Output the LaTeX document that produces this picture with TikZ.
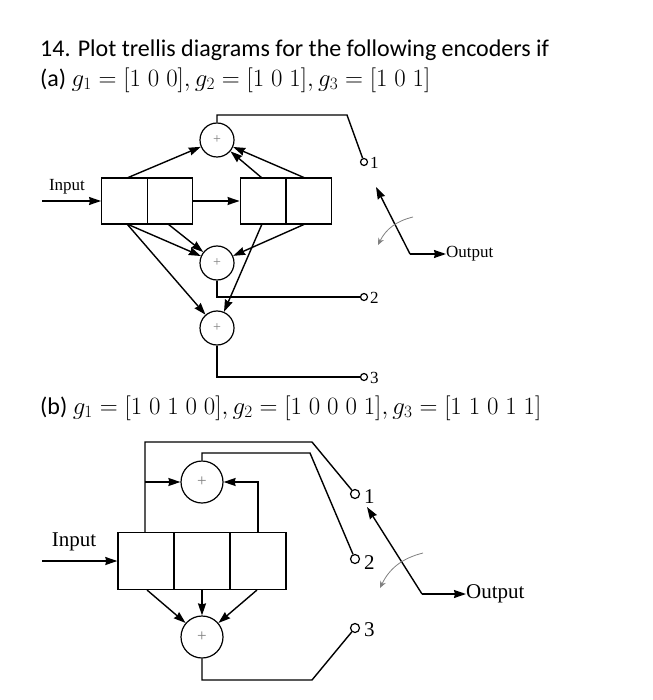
\documentclass[tikz,border=0pt]{standalone}
\usepackage{fontspec}
\setmainfont{Carlito}
\newfontfamily\tms{Liberation Serif}
\usetikzlibrary{arrows.meta}
\begin{document}
\begin{tikzpicture}[x=1pt,y=-1pt,
  ln/.style={line width=1.4pt},
  ar/.style={ln,-{Stealth[length=12pt,width=8pt,inset=1pt]}},
  adda/.style={circle,draw,line width=1.2pt,minimum size=34pt,inner sep=0pt,font=\tms\fontsize{14}{14}\selectfont,text=gray},
  addb/.style={circle,draw,line width=1.2pt,minimum size=42pt,inner sep=0pt,font=\tms\fontsize{17}{17}\selectfont,text=gray},
  cella/.style={draw,line width=1.4pt,minimum width=45.5pt,minimum height=46pt,inner sep=0pt},
  cellb/.style={draw,line width=1.4pt,minimum width=56pt,minimum height=57pt,inner sep=0pt},
  cont/.style={circle,draw,line width=1.2pt,minimum size=7pt,inner sep=0pt},
  laba/.style={font=\tms\fontsize{17}{17}\selectfont,inner sep=0pt},
  labb/.style={font=\tms\fontsize{21}{21}\selectfont,inner sep=0pt},
  ttl/.style={font=\fontsize{24}{24}\selectfont,anchor=west,inner sep=0pt},
  curv/.style={gray,line width=0.8pt,-{Stealth[length=7pt,width=6pt]}}]
\useasboundingbox (0,0) rectangle (652,700);
% titles
\node[ttl] (t1) at (40,50) {14. Plot trellis diagrams for the following encoders if};
\node[ttl] (t2) at (40,80) {(a) $g_1=[1\;0\;0], g_2=[1\;0\;1], g_3=[1\;0\;1]$};
\node[ttl] (t3) at (40,408) {(b) $g_1=[1\;0\;1\;0\;0], g_2=[1\;0\;0\;0\;1], g_3=[1\;1\;0\;1\;1]$};
% ---------- part (a)
\node[cella] (r1) at (124.5,201) {};
\node[cella] (r2) at (170,201) {};
\node[cella] (r3) at (263,201) {};
\node[cella] (r4) at (309,201) {};
\node[adda] (A1) at (217,140) {+};
\node[adda] (A2) at (217,263) {+};
\node[adda] (A3) at (217,328) {+};
\node[laba] (inA) at (67,187) {Input};
\coordinate (inAs) at (42,201);
\draw[ar] (inAs) -- (r1.west);
\draw[ar] (r2.east) -- (r3.west);
\coordinate (p1) at (127,178); \coordinate (p2) at (168,224);
\coordinate (p3) at (262,178); \coordinate (p4) at (305,178);
\coordinate (q1) at (127,224); \coordinate (q3) at (262,224); \coordinate (q4) at (305,224);
\draw[ar] (p1) -- (A1);
\draw[ar] (p3) -- (A1);
\draw[ar] (p4) -- (A1);
\draw[ar] (q1) -- (A2);
\draw[ar] (p2) -- (A2);
\draw[ar] (q4) -- (A2);
\draw[ar] (q1) -- (A3);
\draw[ar] (q3) -- (A3);
\node[cont] (c1) at (364,162) {};
\node[cont] (c2) at (364,297) {};
\node[cont] (c3) at (364,377) {};
\node[laba,anchor=west] (l1) at (370,163) {1};
\node[laba,anchor=west] (l2) at (370,298) {2};
\node[laba,anchor=west] (l3) at (370,378) {3};
\draw[ln] (A1.north) -- (217,115) -- (347,115) -- (c1);
\draw[ln] (A2.south) |- (c2.west);
\draw[ln] (A3.south) |- (c3.west);
\coordinate (swA) at (410,254);
\coordinate (swAt) at (376,187);
\node[laba,anchor=west] (outA) at (446,254) {Output};
\draw[ar] (swA) -- (swAt);
\draw[ar] (swA) -- (outA.west);
\draw[curv] (413,217) to[bend right=25] (378,245);
% ---------- part (b)
\node[cellb] (s1) at (146,561) {};
\node[cellb] (s2) at (202,561) {};
\node[cellb] (s3) at (258,561) {};
\node[addb] (B1) at (202,482) {+};
\node[addb] (B2) at (202,637) {+};
\node[labb] (inB) at (74,542) {Input};
\coordinate (inBs) at (42,561);
\draw[ar] (inBs) -- (s1.west);
\node[cont,minimum size=9pt] (d1) at (355,494) {};
\node[cont,minimum size=9pt] (d2) at (355,559) {};
\node[cont,minimum size=9pt] (d3) at (355,628) {};
\node[labb,anchor=west] (m1) at (364,497) {1};
\node[labb,anchor=west] (m2) at (364,563) {2};
\node[labb,anchor=west] (m3) at (364,630) {3};
\coordinate (u1) at (145,532); \coordinate (u3) at (258,532);
\draw[ln] (u1) -- (145,442) -- (312,442) -- (d1);
\draw[ar] (145,482) -- (B1.west);
\draw[ar] (u3) |- (B1.east);
\draw[ln] (B1.north) -- (202,453) -- (310,453) -- (d2);
\draw[ar] (147,590) -- (B2);
\draw[ar] (202,590) -- (B2.north);
\draw[ar] (257,590) -- (B2);
\draw[ln] (B2.south) -- (202,680) -- (312,680) -- (d3);
\coordinate (swB) at (422,594);
\coordinate (swBt) at (367,507);
\node[labb,anchor=west] (outB) at (466,594) {Output};
\draw[ar] (swB) -- (swBt);
\draw[ar] (swB) -- (outB.west);
\draw[curv] (423,553) to[bend right=25] (380,588);
\end{tikzpicture}
\end{document}
